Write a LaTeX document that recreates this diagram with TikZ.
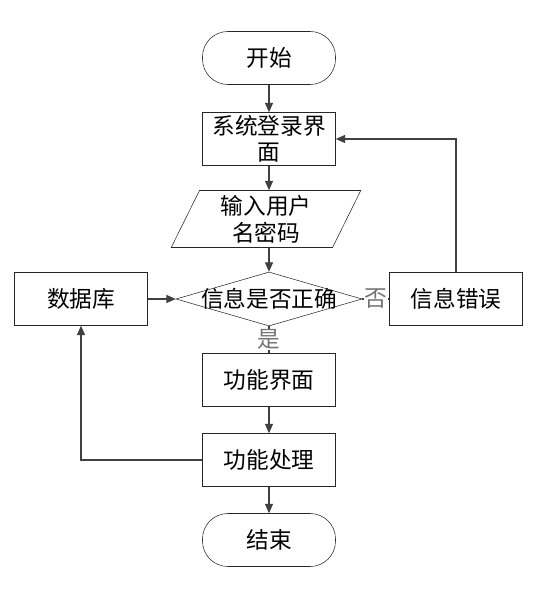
\documentclass[tikz,border=0pt]{standalone}
\usepackage{fontspec}
\newfontfamily\cjk{Noto Sans CJK SC}
\usetikzlibrary{arrows.meta,shapes.geometric}

\begin{document}
\begin{tikzpicture}[x=0.75pt, y=-0.75pt, font=\cjk\fontsize{17}{20}\selectfont,
  box/.style={draw=black!85, fill=white, minimum width=99.75pt, minimum height=39.75pt, align=center, inner sep=1pt},
  term/.style={box, rounded corners=19pt},
  io/.style={draw=black!85, trapezium, trapezium left angle=68, trapezium right angle=112, trapezium stretches=true, minimum width=142.5pt, minimum height=42.75pt, align=center, inner sep=0pt},
  dec/.style={draw=black!85, diamond, minimum width=139.5pt, minimum height=40.5pt, inner sep=0pt},
  flow/.style={-{Triangle[length=7pt,width=6pt]}, black!75, line width=0.8pt},
  plain/.style={black!75, line width=0.8pt},
  lbl/.style={fill=white, text=black!55, inner sep=0.5pt}]
  \useasboundingbox (0,0) rectangle (544,591);
  \node[term] (start) at (269,58) {开始};
  \node[box] (login) at (269,139) {系统登录界\\面};
  \node[io] (input) at (266,219) {输入用户\\名密码};
  \node[dec, label=center:信息是否正确] (check) at (269,299) {};
  \node[box] (db) at (81,299) {数据库};
  \node[box] (err) at (456,299) {信息错误};
  \node[box] (menu) at (269,380) {功能界面};
  \node[box] (proc) at (269,460) {功能处理};
  \node[term] (stop) at (269,540) {结束};
  \draw[flow] (start) -- (login);
  \draw[flow] (login) -- (login |- input.north);
  \draw[flow] (login |- input.south) -- (check);
  \draw[flow] (db) -- (check);
  \draw[plain] (check) -- node[lbl] {否} (err);
  \draw[plain] (check) -- node[lbl] {是} (menu);
  \draw[flow] (err.north) |- (login.east);
  \draw[flow] (menu) -- (proc);
  \draw[flow] (proc.west) -| (db.south);
  \draw[flow] (proc) -- (stop);
\end{tikzpicture}
\end{document}
